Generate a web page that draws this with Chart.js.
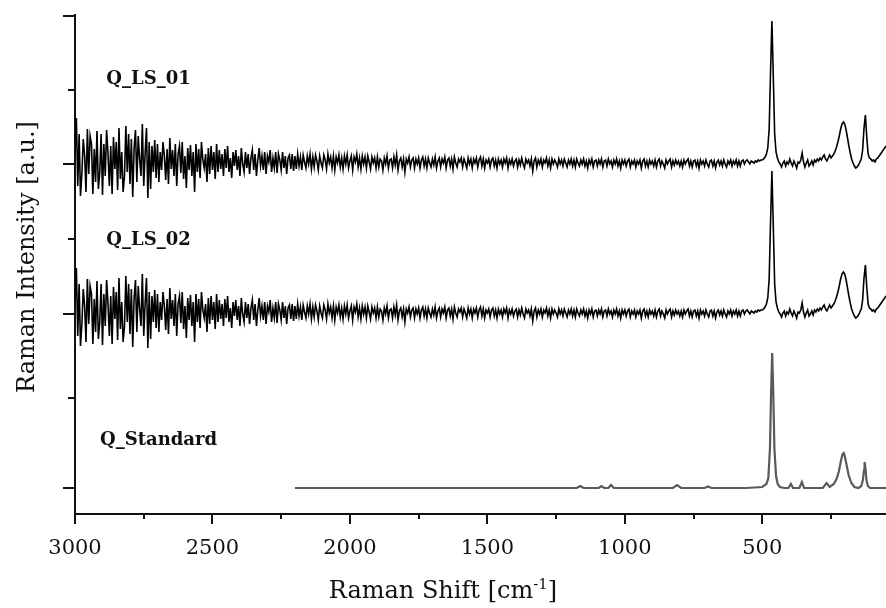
<!DOCTYPE html>
<html>
<head>
<meta charset="utf-8">
<script src="https://cdn.jsdelivr.net/npm/chart.js@4"></script>
<style>
  html, body { margin: 0; padding: 0; background: #fff; overflow: hidden; }
  #wrap { width: 886px; height: 608px; position: relative; }
</style>
</head>
<body>
<div id="wrap"><canvas id="ramanChart"></canvas></div>
<script>
// Raman spectra, x = Raman shift (cm-1), y = intensity (a.u., spectra stacked with offsets)
const seriesNames = ['Q_LS_01', 'Q_LS_02', 'Q_Standard'];
const seriesOffsets = [324, 174, 0];
const seriesColors = ['#000000', '#000000', '#5a5a5a'];

// measured spectra: sampled every 5 cm-1 from 3000 down to 50
const lsStart = 3000;
const lsStep = 5;
const lsIntensity = [
  12, 46, -22, 30, -32, -10, 25, 8, -28, 35,
  -10, 28, 20, -30, 15, -18, 33, -25, -8, 30,
  -31, 20, -12, 34, 10, -22, 18, -30, 27, -5,
  22, -26, 36, -15, 12, -28, -12, 38, -8, 30,
  -20, 25, -33, 16, 34, -18, 28, 5, -12, 40,
  -22, 10, 36, -34, 22, -25, 18, -8, 24, -14,
  20, -18, 12, -6, 22, 8, -16, 15, -20, 26,
  -5, 14, -12, 20, -22, 10, 18, -9, 22, -15,
  8, -24, 16, -6, 19, -12, 12, -28, 20, -8,
  15, -14, 22, 4, -4, 10, -18, 16, -10, 18,
  -6, 12, -15, 20, -8, 14, -5, 10, -12, 15,
  -4, 18, -8, 6, -14, 12, -2, 14, -6, 8,
  -12, 16, 0, -8, 12, -4, 10, -10, 6, 14,
  -6, 10, -12, 4, 16, -2, 8, -6, 12, -10,
  8, 2, 14, -8, 6, -4, 12, -9, 10, 4,
  -6, 12, -4, 8, -10, 6, 9, -5, 10, -7,
  8, -5, 10, -2, 7, -6, 9, 2, -4, 8,
  0, 10, -5, 7, -3, 9, 3, -6, 8, 1,
  -4, 9, 4, -5, 10, 1, 7, -4, 8, -6,
  7, 1, 9, -3, 6, -5, 8, 0, 9, -4,
  3, 8, -6, 7, 2, 10, -3, 6, -5, 8,
  0, 7, -4, 8, 2, -5, 7, 1, 6, -4,
  7, -3, 5, 3, -6, 6, 0, 8, -4, 4,
  5, -4, 7, -1, 9, -6, 3, 6, -3, 5,
  -8, 5, 1, 7, -3, 4, 6, -4, 5, 0,
  6, -4, 4, 7, -2, 5, -4, 6, 1, -3,
  5, -1, 7, -4, 3, 6, -3, 5, 1, 7,
  -4, 4, 6, -2, 5, -5, 7, 1, -3, 5,
  2, 6, -3, 5, 1, -4, 6, 0, 5, -4,
  5, 1, 6, -3, 4, 7, -2, 5, -4, 4,
  1, 5, -3, 4, 6, -2, 4, -4, 5, 0,
  4, -3, 5, 1, 6, -4, 4, 0, 5, -2,
  3, 5, -3, 4, -1, 6, 0, -4, 5, 1,
  4, -2, 5, -7, 3, 6, -3, 4, 0, 5,
  -3, 4, 1, 6, -2, 4, -4, 5, 0, 4,
  1, -3, 5, 0, 4, -2, 5, 1, -3, 4,
  0, 5, -2, 4, -3, 5, 1, -2, 4, 0,
  5, -2, 3, -4, 4, 0, 5, -3, 3, 4,
  -2, 4, 0, 5, -3, 3, 4, -2, 5, 0,
  3, -3, 4, 0, 5, -2, 3, -4, 4, 0,
  4, -2, 3, 5, -3, 3, 0, 4, -3, 3,
  0, 4, -4, 3, 5, -2, 3, -3, 4, 0,
  3, -2, 4, -3, 3, 5, -2, 3, 0, -4,
  4, 0, 3, 5, -3, 3, -1, 4, 0, 3,
  -2, 3, -3, 4, 0, 3, 5, -2, 3, -3,
  3, 4, -2, 3, -4, 4, 0, 3, -2, 4,
  0, -3, 3, 4, -2, 3, -4, 2, 4, -1,
  3, -2, 4, 0, -3, 3, 0, 4, -2, 3,
  0, 4, -2, 3, -2, 3, 4, 0, 3, 4,
  2, 0, 3, 2, 1, 3, 2, 4, 3, 4,
  4, 5, 7, 10, 16, 35, 92, 143, 88, 30,
  12, 6, 2, 0, -3, 1, 3, -2, 2, 0,
  5, 1, -2, 3, 0, -4, 2, 1, 4, 11,
  2, -3, 1, 4, -2, 0, 3, -1, 4, 2,
  5, 3, 6, 4, 7, 9, 5, 3, 6, 9,
  6, 8, 10, 13, 17, 22, 28, 35, 40, 42,
  40, 34, 26, 18, 11, 5, 1, -2, -4, -3,
  -1, 2, 5, 14, 36, 49, 27, 10, 6, 5,
  3, 4, 2, 5, 6, 8, 10, 12, 14, 16,
  18
];

// reference quartz spectrum (clean, starts at 2200 cm-1)
const stdShift = [2200, 1175, 1162, 1150, 1095, 1085, 1075, 1060, 1050, 1040, 825, 810, 795, 710, 697, 685,
  560, 500, 485, 478, 472, 468, 464, 460, 456, 450, 444, 436, 420, 405, 396, 388, 365, 356, 348,
  280, 266, 255, 240, 230, 222, 214, 208, 204, 200, 194, 186, 176, 165, 150, 140, 134, 130, 128, 125, 121, 116, 108, 50];
const stdIntensity = [0, 0, 2, 0, 0, 2, 0, 0, 3, 0, 0, 3, 0, 0, 1.5, 0,
  0, 1, 4, 10, 40, 95, 135, 95, 40, 12, 4, 1, 0, 0, 4, 0, 0, 6, 0,
  0, 5, 1, 4, 9, 16, 27, 34, 35, 32, 24, 13, 5, 1, 0, 2, 8, 18, 26, 20, 8, 2, 0, 0];

// axis ticks
const xMajorTicks = [3000, 2500, 2000, 1500, 1000, 500];
const xMinorTicks = [2750, 2250, 1750, 1250, 750, 250];
const yMajorTicks = [0, 174, 324, 472];
const yMinorTicks = [90, 249, 398];

// sample labels anchored in data units: [name, shift, intensity]
const sampleLabels = [
  ['Q_LS_01', 2886, 409],
  ['Q_LS_02', 2886, 248],
  ['Q_Standard', 2909, 48]
];

const serif = "'DejaVu Serif', serif";

function lsData(offset) {
  return lsIntensity.map((v, i) => ({ x: lsStart - i * lsStep, y: v + offset }));
}
function stdData(offset) {
  return stdShift.map((s, i) => ({ x: s, y: stdIntensity[i] + offset }));
}

const decorPlugin = {
  id: 'decor',
  afterDraw(chart) {
    const { ctx, chartArea } = chart;
    const xs = chart.scales.x, ys = chart.scales.y;
    ctx.save();
    ctx.strokeStyle = '#111';
    ctx.lineWidth = 2;
    ctx.beginPath();
    yMajorTicks.forEach(v => {
      const py = Math.round(ys.getPixelForValue(v));
      ctx.moveTo(chartArea.left - 12, py); ctx.lineTo(chartArea.left, py);
    });
    yMinorTicks.forEach(v => {
      const py = Math.round(ys.getPixelForValue(v));
      ctx.moveTo(chartArea.left - 7, py); ctx.lineTo(chartArea.left, py);
    });
    xMajorTicks.forEach(v => {
      const px = Math.round(xs.getPixelForValue(v));
      ctx.moveTo(px, chartArea.bottom); ctx.lineTo(px, chartArea.bottom + 10);
    });
    xMinorTicks.forEach(v => {
      const px = Math.round(xs.getPixelForValue(v));
      ctx.moveTo(px, chartArea.bottom); ctx.lineTo(px, chartArea.bottom + 5);
    });
    ctx.stroke();

    // sample names
    ctx.fillStyle = '#111';
    ctx.font = 'bold 18px ' + serif;
    ctx.textAlign = 'left';
    ctx.textBaseline = 'middle';
    sampleLabels.forEach(([name, sx, sy]) => {
      ctx.fillText(name, xs.getPixelForValue(sx), ys.getPixelForValue(sy));
    });

    // x axis title with superscript
    const base = 'Raman Shift [cm', sup = '-1', tail = ']';
    ctx.textBaseline = 'alphabetic';
    ctx.font = '24px ' + serif;
    const wBase = ctx.measureText(base).width, wTail = ctx.measureText(tail).width;
    ctx.font = '15px ' + serif;
    const wSup = ctx.measureText(sup).width;
    let tx = 443 - (wBase + wSup + wTail) / 2;
    const ty = 598;
    ctx.font = '24px ' + serif;
    ctx.fillText(base, tx, ty); tx += wBase;
    ctx.font = '15px ' + serif;
    ctx.fillText(sup, tx, ty - 9); tx += wSup;
    ctx.font = '24px ' + serif;
    ctx.fillText(tail, tx, ty);

    // y axis title
    ctx.translate(28, 257);
    ctx.rotate(-Math.PI / 2);
    ctx.textAlign = 'center';
    ctx.textBaseline = 'middle';
    ctx.fillText('Raman Intensity [a.u.]', 0, 0);
    ctx.restore();
  }
};

const ctx = document.getElementById('ramanChart').getContext('2d');
new Chart(ctx, {
  type: 'line',
  data: {
    datasets: [
      { label: seriesNames[0], data: lsData(seriesOffsets[0]), borderColor: seriesColors[0], borderWidth: 1.6 },
      { label: seriesNames[1], data: lsData(seriesOffsets[1]), borderColor: seriesColors[1], borderWidth: 1.6 },
      { label: seriesNames[2], data: stdData(seriesOffsets[2]), borderColor: seriesColors[2], borderWidth: 2.2 }
    ]
  },
  options: {
    responsive: true,
    maintainAspectRatio: false,
    animation: false,
    parsing: false,
    layout: { padding: { top: 15, right: 0, left: 0, bottom: 0 } },
    elements: {
      point: { radius: 0, hoverRadius: 0 },
      line: { tension: 0, fill: false }
    },
    scales: {
      x: {
        type: 'linear',
        reverse: true,
        min: 50,
        max: 3000,
        afterBuildTicks: axis => { axis.ticks = xMajorTicks.map(v => ({ value: v })); },
        afterFit: axis => { axis.height = 94; },
        grid: { display: false, drawTicks: false },
        border: { display: true, color: '#111', width: 2 },
        ticks: {
          autoSkip: false,
          maxRotation: 0,
          padding: 22,
          color: '#111',
          font: { family: serif, size: 21 },
          callback: v => String(v)
        }
      },
      y: {
        type: 'linear',
        min: -26,
        max: 473,
        afterFit: axis => { axis.width = 75; },
        grid: { display: false, drawTicks: false },
        border: { display: true, color: '#111', width: 2 },
        ticks: { display: false }
      }
    },
    plugins: {
      legend: { display: false },
      tooltip: { enabled: false },
      title: { display: false }
    }
  },
  plugins: [decorPlugin]
});
</script>
</body>
</html>
